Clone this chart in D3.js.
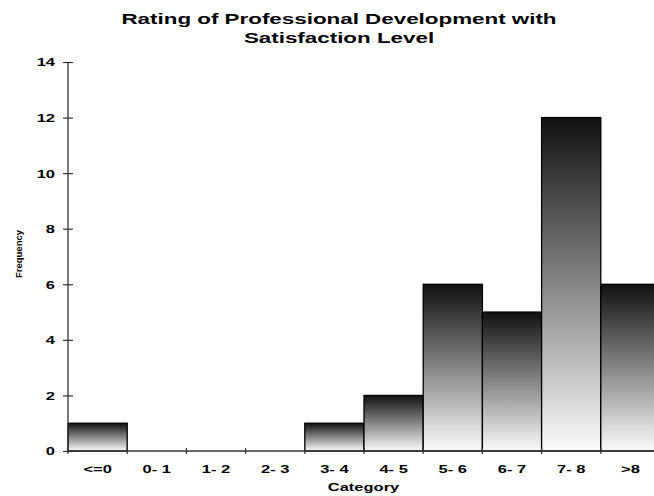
<!DOCTYPE html>
<html><head><meta charset="utf-8">
<script src="https://cdn.jsdelivr.net/npm/d3@7"></script>
<style>body{margin:0;background:#fff}svg{display:block}text{font-family:"Liberation Sans",Arial,sans-serif;font-weight:bold;fill:#000}</style>
</head><body><svg id="c" width="654" height="496"></svg>
<script>
const categories = ["<=0","0- 1","1- 2","2- 3","3- 4","4- 5","5- 6","6- 7","7- 8",">8"];
const frequency = [1,0,0,0,1,2,6,5,12,6];
const yTicks = [0,2,4,6,8,10,12,14];

(function(){
const svg = d3.select("#c");
const mLeft = 68, mRight = 660, mTop = 62, mBottom = 451;
const x = d3.scaleBand().domain(categories).range([mLeft, mRight]).padding(0);
const y = d3.scaleLinear().domain([0,14]).range([mBottom, mTop]);

const defs = svg.append("defs");
const g = defs.append("linearGradient").attr("id","gr").attr("x1",0).attr("y1",0).attr("x2",0).attr("y2",1);
g.append("stop").attr("offset","0%").attr("stop-color","#111");
g.append("stop").attr("offset","100%").attr("stop-color","#fbfbfb");

svg.selectAll("rect.bar").data(categories.map((c,i)=>({c,v:frequency[i]})).filter(d=>d.v>0))
  .join("rect").attr("class","bar")
  .attr("x",d=>x(d.c)).attr("width",x.bandwidth())
  .attr("y",d=>y(d.v)).attr("height",d=>y(0)-y(d.v))
  .attr("fill","url(#gr)").attr("stroke","#000").attr("stroke-width",1.3);

const KX = 1.5, KT = 1.6;

const ya = svg.append("g").attr("transform",`translate(${mLeft},0)`)
  .call(d3.axisLeft(y).tickValues(yTicks).tickSize(5).tickPadding(8));
ya.select(".domain").attr("stroke","#333").attr("stroke-width",1.3).attr("d",`M0,${mBottom}V${mTop}`);
ya.selectAll(".tick line").attr("x1",-5).attr("x2",5).attr("stroke","#333").attr("stroke-width",1.2);
ya.selectAll(".tick text").attr("font-size",11).attr("font-family","Liberation Sans, Arial, sans-serif").attr("fill","#000")
  .attr("dy","0.36em").attr("x",-13/KX).attr("transform",`scale(${KX},1)`);

const xa = svg.append("g").attr("transform",`translate(0,${mBottom})`)
  .call(d3.axisBottom(x).tickSize(0));
xa.select(".domain").attr("stroke","#333").attr("stroke-width",1.3).attr("d",`M${mLeft},0H${mRight}`);
xa.selectAll(".tick text").attr("font-size",11).attr("font-family","Liberation Sans, Arial, sans-serif").attr("fill","#000")
  .attr("y",22).attr("dy",0).attr("transform",`scale(${KX},1)`);
xa.selectAll("line.bt").data(categories).join("line").attr("class","bt")
  .attr("x1",d=>x(d)).attr("x2",d=>x(d)).attr("y1",-3).attr("y2",3)
  .attr("stroke","#333").attr("stroke-width",1.2);

svg.append("text").attr("transform",`translate(339,24) scale(${KT},1)`).attr("text-anchor","middle").attr("font-size",14).text("Rating of Professional Development with");
svg.append("text").attr("transform",`translate(339,42.5) scale(${KT},1)`).attr("text-anchor","middle").attr("font-size",14).text("Satisfaction Level");
svg.append("text").attr("transform",`translate(363.5,491) scale(${KX},1)`).attr("text-anchor","middle").attr("font-size",11).text("Category");
svg.append("text").attr("transform","translate(21.8,254) rotate(-90)").attr("text-anchor","middle").attr("font-size",9.5).text("Frequency");
})();
</script></body></html>
